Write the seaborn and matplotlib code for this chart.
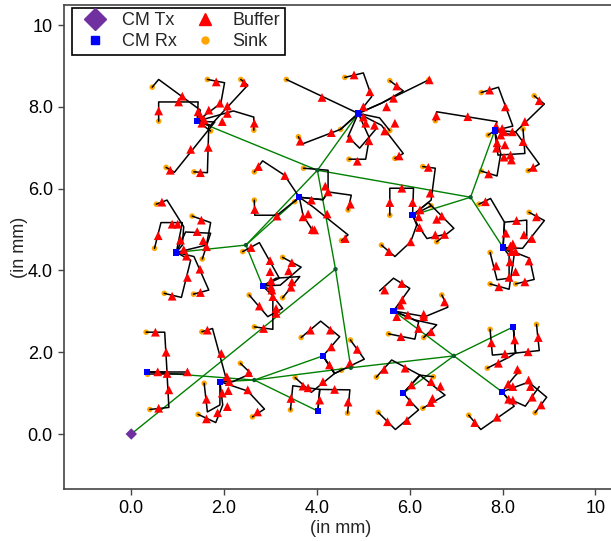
import matplotlib
matplotlib.use("Agg")
import numpy as np
import pandas as pd
import seaborn as sns
import matplotlib.pyplot as plt
from matplotlib.lines import Line2D

# ---- clock distribution data (mm) ----
# every path starts at a sink and lists its bends; the wire then ends at the cluster's CM Rx
tx_pt = (0.0, 0.0)

hub_a = (4.40, 4.03)
hub_b = (4.01, 6.45)
hub_c = (4.73, 1.62)
hub_d = (7.31, 5.79)
hub_e = (2.47, 4.62)
hub_f = (2.65, 1.32)
hub_g = (6.95, 1.91)

c1_rx = (1.42, 7.65)
c1_paths = [
    [(0.45, 8.48), (0.59, 8.67), (1.49, 7.92)],
    [(0.59, 7.65), (0.59, 8.12), (1.44, 8.12)],
    [(1.64, 8.67), (2.01, 8.59), (1.93, 8.09)],
    [(2.36, 8.67), (2.51, 8.53), (1.71, 7.55)],
    [(1.71, 7.41)],
    [(0.75, 6.52), (0.93, 6.40), (1.80, 7.63)],
    [(1.35, 6.41), (1.64, 6.39), (1.67, 7.55)],
    [(2.64, 7.43), (2.64, 7.75), (2.20, 7.90)],
]
c1_bufs = [(1.10, 8.26), (0.59, 7.90), (1.02, 8.12), (1.44, 7.88), (1.49, 7.78), (1.57, 7.68),
           (1.52, 7.60), (1.67, 7.92), (1.83, 8.61), (1.91, 8.09), (2.07, 8.02), (2.07, 7.84),
           (1.96, 7.64), (2.43, 8.59), (1.28, 6.96), (1.66, 7.01), (0.84, 6.45), (1.49, 6.39),
           (2.65, 7.60)]

c2_rx = (4.89, 7.84)
c2_paths = [
    [(3.34, 8.67)],
    [(4.60, 8.72), (5.00, 8.83), (5.18, 8.25)],
    [(3.60, 7.27), (3.68, 7.09), (4.51, 7.45)],
    [(4.51, 7.45)],
    [(4.69, 6.72), (5.05, 6.72), (5.13, 7.24)],
    [(5.57, 7.42), (5.35, 7.73)],
    [(5.57, 8.64), (5.86, 8.39), (5.39, 8.09)],
    [(6.41, 8.66), (5.39, 8.09)],
    [(5.68, 6.74), (5.86, 6.86), (5.39, 7.55)],
]
c2_stubs = [[(4.89, 7.84), (4.67, 7.27), (4.92, 6.99), (5.28, 7.47)]]
c2_bufs = [(4.11, 8.23), (4.80, 8.78), (5.14, 8.37), (5.00, 8.00), (5.50, 8.00), (5.00, 7.75),
           (5.05, 7.60), (5.24, 7.55), (4.31, 7.37), (3.64, 7.16), (4.71, 7.23), (5.12, 7.17),
           (5.46, 7.41), (4.87, 6.67), (5.72, 8.51), (5.65, 8.21), (6.42, 8.66), (5.68, 7.60),
           (5.77, 6.80)]

c3_rx = (7.83, 7.42)
c3_paths = [
    [(7.54, 8.35), (7.91, 8.48), (8.22, 7.53)],
    [(8.68, 8.27), (8.90, 8.07), (8.21, 7.31)],
    [(6.55, 7.66), (6.58, 7.88), (7.88, 7.64)],
    [(7.69, 7.31)],
    [(8.44, 7.46), (8.48, 6.86), (7.90, 6.82)],
    [(8.55, 6.44), (8.79, 6.60), (8.28, 7.39)],
    [(7.54, 6.43), (7.88, 6.31), (7.96, 6.86)],
]
c3_bufs = [(7.72, 8.41), (8.06, 8.00), (8.79, 8.15), (8.48, 7.64), (6.57, 7.78), (7.25, 7.76),
           (7.86, 7.53), (7.99, 7.47), (8.03, 7.39), (7.96, 7.31), (8.21, 7.39), (7.88, 7.12),
           (8.05, 7.07), (8.44, 7.15), (8.17, 6.82), (8.19, 6.70), (8.03, 6.77), (7.70, 6.36),
           (8.66, 6.52), (7.87, 6.99)]

c4_rx = (0.97, 4.44)
c4_paths = [
    [(0.54, 5.62), (0.77, 5.72), (1.13, 5.07), (1.10, 4.62)],
    [(1.31, 5.33), (1.71, 5.17), (1.62, 4.62)],
    [(0.50, 4.54), (0.64, 5.17), (1.10, 5.17)],
    [(1.53, 4.28), (1.71, 4.91), (1.17, 4.94)],
    [(0.71, 3.44), (1.08, 3.34), (1.28, 4.25)],
    [(1.34, 3.42), (1.67, 3.52), (1.35, 4.34)],
]
c4_bufs = [(0.66, 5.67), (1.00, 5.13), (1.06, 4.74), (1.51, 5.23), (1.55, 4.73), (1.62, 4.58),
           (0.58, 4.85), (0.88, 5.13), (0.88, 3.37), (1.21, 3.83), (1.49, 3.46), (1.48, 4.03),
           (1.13, 4.51), (1.19, 4.35), (1.42, 4.95)]

c5_rx = (2.83, 3.62)
c5_paths = [
    [(2.40, 4.46), (2.76, 4.68), (3.19, 3.81)],
    [(3.26, 4.32), (3.66, 4.08), (3.21, 3.64)],
    [(3.26, 3.33), (3.63, 3.85), (3.12, 3.81)],
    [(2.54, 3.40), (2.94, 2.87), (3.26, 3.07), (3.03, 3.40)],
    [(2.65, 2.62), (3.05, 2.56), (3.05, 3.50)],
]
c5_bufs = [(2.58, 4.56), (2.99, 4.24), (3.46, 4.19), (3.39, 3.99), (3.46, 3.72), (3.44, 3.59),
           (2.99, 3.97), (3.01, 3.75), (3.01, 3.60), (3.03, 3.52), (3.05, 3.36), (3.12, 3.07),
           (3.12, 2.95), (2.76, 3.13), (2.85, 2.58)]

c6_rx = (3.62, 5.79)
c6_paths = [
    [(2.65, 6.41), (2.83, 6.68), (3.30, 6.33)],
    [(3.71, 6.50), (4.24, 6.45), (4.24, 5.92), (4.13, 5.73)],
    [(4.67, 5.48), (4.74, 5.84), (4.24, 5.92), (4.13, 5.73)],
    [(2.65, 5.72), (2.66, 5.35), (3.14, 5.35)],
    [(3.52, 5.68)],
    [(4.53, 4.73), (4.67, 4.87), (3.91, 5.56)],
]
c6_stubs = [[(3.62, 5.79), (3.70, 5.35), (3.91, 4.97)]]
c6_bufs = [(2.74, 6.54), (3.31, 6.32), (4.18, 6.06), (4.24, 5.92), (4.72, 5.62), (2.66, 5.49),
           (3.14, 5.33), (3.70, 5.31), (3.81, 5.38), (3.88, 5.72), (4.22, 5.38), (3.90, 5.00),
           (3.95, 4.99), (4.61, 4.78)]

c7_rx = (6.06, 5.35)
c7_paths = [
    [(5.57, 5.35), (5.57, 6.01), (6.08, 6.01)],
    [(6.46, 5.58)],
    [(6.28, 6.54), (6.55, 6.50), (6.46, 5.72)],
    [(6.58, 4.70), (6.95, 5.03), (6.40, 5.66)],
    [(5.39, 4.62), (5.68, 4.34), (6.02, 4.70), (6.15, 5.11)],
]
c7_stubs = [[(6.06, 5.35), (6.17, 5.11), (6.37, 4.78), (6.75, 4.88)]]
c7_bufs = [(6.06, 5.66), (5.83, 6.01), (5.57, 5.66), (6.44, 5.89), (6.22, 5.48), (6.19, 5.31),
           (6.21, 5.05), (6.55, 4.87), (6.75, 4.88), (6.58, 5.25), (6.69, 5.33), (6.02, 4.70),
           (5.55, 4.46), (6.40, 6.52)]

c8_rx = (8.01, 4.56)
c8_paths = [
    [(7.49, 5.62), (7.74, 5.76), (8.04, 5.18)],
    [(8.57, 5.42), (8.90, 5.22), (8.43, 4.54)],
    [(7.73, 4.44), (7.88, 3.77), (8.14, 3.81), (8.14, 4.37)],
    [(7.73, 3.67), (8.14, 3.54), (8.25, 4.38)],
    [(8.28, 3.67), (8.68, 3.78), (8.58, 4.30)],
]
c8_stubs = [[(8.01, 4.56), (8.04, 5.18), (8.52, 5.23), (8.52, 4.83)]]
c8_bufs = [(7.63, 5.68), (8.73, 5.31), (8.63, 4.78), (8.30, 5.22), (8.07, 4.91), (8.46, 4.87),
           (7.86, 4.11), (8.14, 3.83), (7.92, 3.60), (8.48, 3.72), (8.57, 4.23), (8.17, 4.60),
           (8.22, 4.65), (8.19, 4.46), (8.28, 4.46), (8.16, 4.21), (8.28, 3.97)]

c9_rx = (0.34, 1.52)
c9_paths = [
    [(0.32, 2.49), (0.72, 2.49), (0.77, 1.52)],
    [(0.40, 0.60), (0.81, 0.65), (0.77, 1.48)],
    [(0.35, 1.46)],
]
c9_stubs = [[(0.34, 1.52), (1.21, 1.52)], [(0.35, 1.46), (1.21, 1.46), (1.21, 1.52)]]
c9_bufs = [(0.52, 2.49), (0.75, 2.00), (0.57, 1.52), (0.77, 1.48), (1.21, 1.52), (0.81, 1.08),
           (0.59, 0.63)]

c10_rx = (1.91, 1.28)
c10_paths = [
    [(1.52, 2.50), (1.75, 2.58), (2.04, 1.37)],
    [(2.35, 1.73), (2.58, 1.48), (2.19, 1.28)],
    [(1.57, 1.24), (1.64, 0.54), (1.91, 0.71)],
    [(1.44, 0.48), (1.82, 0.28), (1.97, 0.71)],
    [(2.61, 0.42), (2.87, 0.61), (2.51, 1.05)],
]
c10_bufs = [(1.64, 2.54), (1.94, 1.97), (2.53, 1.50), (1.62, 0.85), (1.86, 0.52), (1.62, 0.37),
            (1.96, 1.00), (2.09, 1.06), (2.11, 1.28), (2.06, 1.40), (2.07, 0.67), (2.51, 1.08),
            (2.72, 0.54)]

c11_rx = (4.13, 1.91)
c11_paths = [
    [(3.66, 2.36), (4.08, 2.76), (4.49, 2.38), (4.24, 2.05)],
    [(4.72, 2.30), (5.02, 1.83), (4.38, 1.48)],
    [(4.53, 1.56), (4.38, 1.48)],
    [(3.53, 1.38), (3.88, 1.02), (4.38, 1.48)],
]
c11_bufs = [(3.86, 2.54), (4.29, 2.54), (4.31, 2.13), (4.27, 1.69), (4.71, 1.73), (4.87, 2.07),
            (3.81, 1.13), (4.13, 1.28)]

c12_rx = (4.02, 0.56)
c12_paths = [
    [(3.43, 0.59), (3.48, 1.18), (4.06, 1.09)],
    [(4.66, 0.51), (4.71, 1.08), (4.06, 1.09)],
]
c12_bufs = [(4.06, 0.83), (3.44, 0.87), (3.70, 1.17), (4.38, 1.09), (4.67, 0.78)]

c13_rx = (5.65, 3.01)
c13_paths = [
    [(5.54, 2.45), (6.11, 2.32), (6.19, 2.74)],
    [(6.30, 2.36), (6.58, 2.67), (6.11, 2.79)],
    [(6.69, 3.40), (6.82, 3.10), (6.33, 2.87)],
]
c13_stubs = [[(5.65, 3.01), (6.00, 3.56), (5.65, 3.81), (5.35, 3.50)]]
c13_bufs = [(5.46, 3.52), (5.83, 3.68), (5.84, 3.28), (5.80, 3.15), (5.96, 2.91), (6.30, 2.93),
            (6.30, 2.87), (5.72, 2.87), (6.75, 3.23), (6.19, 2.58), (6.46, 2.50), (5.81, 2.38)]

c14_rx = (8.23, 2.62)
c14_paths = [
    [(7.73, 2.56), (7.78, 1.93), (8.28, 1.98)],
    [(8.73, 2.68), (8.79, 2.04), (8.28, 1.98)],
    [(7.67, 1.61), (8.14, 1.88), (8.28, 1.98)],
]
c14_bufs = [(7.76, 2.23), (8.05, 1.96), (8.55, 2.01), (8.26, 2.30), (8.77, 2.36), (7.91, 1.73),
            (8.32, 1.58)]

c15_rx = (7.99, 1.03)
c15_paths = [
    [(7.27, 0.46), (7.53, 0.11), (8.25, 0.68)],
    [(8.70, 0.52), (8.95, 0.90), (8.56, 1.27)],
    [(8.35, 1.52), (8.25, 1.40)],
]
c15_stubs = [[(7.99, 1.03), (8.10, 0.88), (8.49, 0.68), (8.79, 1.16)]]
c15_bufs = [(8.12, 1.22), (8.22, 1.16), (8.13, 0.85), (8.22, 0.83), (8.56, 1.32), (8.60, 1.16),
            (8.64, 0.90), (8.83, 0.71), (7.40, 0.28), (7.88, 0.41)]

c16_rx = (5.86, 1.00)
c16_paths = [
    [(6.51, 1.40), (6.22, 1.44)],
    [(6.28, 0.63), (6.76, 0.95), (6.22, 1.44)],
    [(5.32, 0.53), (5.69, 0.11), (6.19, 0.59), (6.02, 0.79)],
    [(5.28, 1.39), (5.61, 1.81), (6.22, 1.44)],
]
c16_bufs = [(6.04, 1.20), (6.00, 0.79), (6.46, 1.28), (6.66, 1.17), (6.49, 0.87), (6.45, 0.77),
            (5.52, 0.30), (5.94, 0.33), (5.45, 1.58), (5.90, 1.61)]

green_edges = [
    (tx_pt, hub_a), (hub_a, hub_b), (hub_a, hub_c),
    (hub_b, c1_rx), (hub_b, c2_rx), (hub_b, hub_d), (hub_b, hub_e),
    (hub_d, c3_rx), (hub_d, c8_rx), (hub_d, c7_rx),
    (hub_e, c4_rx), (hub_e, c5_rx), (hub_e, c6_rx),
    (hub_c, hub_f), (hub_c, hub_g),
    (hub_f, c9_rx), (hub_f, c10_rx), (hub_f, c11_rx), (hub_f, c12_rx),
    (hub_g, c13_rx), (hub_g, c14_rx), (hub_g, c15_rx), (hub_g, c16_rx),
]

clusters = [
    (c1_rx, c1_paths, [], c1_bufs), (c2_rx, c2_paths, c2_stubs, c2_bufs),
    (c3_rx, c3_paths, [], c3_bufs), (c4_rx, c4_paths, [], c4_bufs),
    (c5_rx, c5_paths, [], c5_bufs), (c6_rx, c6_paths, c6_stubs, c6_bufs),
    (c7_rx, c7_paths, c7_stubs, c7_bufs), (c8_rx, c8_paths, c8_stubs, c8_bufs),
    (c9_rx, c9_paths, c9_stubs, c9_bufs), (c10_rx, c10_paths, [], c10_bufs),
    (c11_rx, c11_paths, [], c11_bufs), (c12_rx, c12_paths, [], c12_bufs),
    (c13_rx, c13_paths, c13_stubs, c13_bufs), (c14_rx, c14_paths, [], c14_bufs),
    (c15_rx, c15_paths, c15_stubs, c15_bufs), (c16_rx, c16_paths, [], c16_bufs),
]

# ---- tidy tables ----
wire_rows, sink_rows, buf_rows, rx_rows = [], [], [], []
wid = 0
for rx, paths, stubs, bufs in clusters:
    rx_rows.append(rx)
    for p in paths:
        sink_rows.append(p[0])
        for pt in list(p) + [rx]:
            wire_rows.append((wid, pt[0], pt[1]))
        wid += 1
    for s in stubs:
        for pt in s:
            wire_rows.append((wid, pt[0], pt[1]))
        wid += 1
    buf_rows.extend(bufs)

wire_df = pd.DataFrame(wire_rows, columns=["wire", "x", "y"])
sink_df = pd.DataFrame(sink_rows, columns=["x", "y"])
buf_df = pd.DataFrame(buf_rows, columns=["x", "y"])
rx_df = pd.DataFrame(rx_rows, columns=["x", "y"])
hub_df = pd.DataFrame([hub_a, hub_b, hub_c, hub_d, hub_e, hub_f, hub_g], columns=["x", "y"])
tx_df = pd.DataFrame([tx_pt], columns=["x", "y"])

green_rows = []
for i, (p, q) in enumerate(green_edges):
    green_rows.append((i, p[0], p[1]))
    green_rows.append((i, q[0], q[1]))
green_df = pd.DataFrame(green_rows, columns=["edge", "x", "y"])

# ---- plot ----
sns.set_theme(style="ticks")
plt.rcParams["font.family"] = ["Liberation Sans", "DejaVu Sans"]

fig = plt.figure(figsize=(6.11, 5.41), dpi=100)
ax = fig.add_axes([0.1047, 0.0961, 0.904, 0.8946])

sns.scatterplot(data=sink_df, x="x", y="y", marker="o", color="#FFA500", s=16,
                edgecolor="none", ax=ax, zorder=2)
sns.lineplot(data=green_df, x="x", y="y", units="edge", estimator=None, sort=False,
             color="green", linewidth=1.0, ax=ax, zorder=2)
sns.lineplot(data=wire_df, x="x", y="y", units="wire", estimator=None, sort=False,
             color="black", linewidth=1.1, ax=ax, zorder=3)
sns.scatterplot(data=buf_df, x="x", y="y", marker="^", color="red", s=40,
                edgecolor="none", ax=ax, zorder=4)
sns.scatterplot(data=hub_df, x="x", y="y", marker="o", color="#0b5a2a", s=10,
                edgecolor="none", ax=ax, zorder=5)
sns.scatterplot(data=rx_df, x="x", y="y", marker="s", color="blue", s=20,
                edgecolor="none", ax=ax, zorder=5)
sns.scatterplot(data=tx_df, x="x", y="y", marker="D", color="#7030A0", s=34,
                edgecolor="none", ax=ax, zorder=5)

ax.set_xlim(-1.45, 10.45)
ax.set_ylim(-1.345, 10.49)
ticks = [0, 2, 4, 6, 8, 10]
tick_labels = ["0.0", "2.0", "4.0", "6.0", "8.0", "10"]
ax.set_xticks(ticks)
ax.set_xticklabels(tick_labels)
ax.set_yticks(ticks)
ax.set_yticklabels(tick_labels)
ax.tick_params(direction="out", length=4, width=1, color="#444444", labelsize=13,
               labelcolor="black", pad=4)
for side in ["left", "bottom", "top"]:
    ax.spines[side].set_color("#444444")
    ax.spines[side].set_linewidth(1.2)
ax.spines["right"].set_visible(False)
ax.set_xlabel("(in mm)", fontsize=13, labelpad=2)
ax.set_ylabel("(in mm)", fontsize=13, labelpad=0)

handles = [
    Line2D([], [], marker="D", color="#7030A0", ls="", markersize=11, label="CM Tx"),
    Line2D([], [], marker="s", color="blue", ls="", markersize=6, label="CM Rx"),
    Line2D([], [], marker="^", color="red", ls="", markersize=8, label="Buffer"),
    Line2D([], [], marker="o", color="#FFA500", ls="", markersize=5, label="Sink"),
]
leg = ax.legend(handles=handles, ncol=2, loc="upper left", bbox_to_anchor=(0.0146, 0.994),
                fontsize=13, frameon=True, fancybox=False, edgecolor="black", framealpha=1,
                borderaxespad=0, borderpad=0.25, labelspacing=0.2, handletextpad=0.5,
                columnspacing=0.6)
leg.get_frame().set_linewidth(1.2)

fig.savefig("out.png", dpi=100)
